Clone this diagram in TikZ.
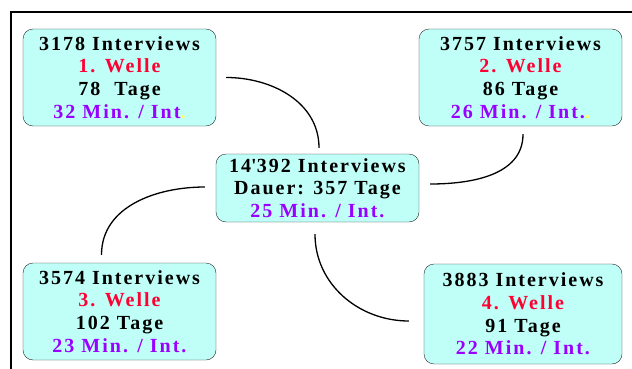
\documentclass[tikz,border=0pt]{standalone}
\usepackage{fontspec}
\setmainfont{Liberation Serif}[LetterSpace=10]
\usepackage{xcolor}
\usepackage{tikz}
\definecolor{boxfill}{HTML}{C0FFF8}
\definecolor{welle}{HTML}{FF0033}
\definecolor{mininfo}{HTML}{9900FF}
\definecolor{dotyellow}{HTML}{FFFF66}
\tikzset{
  wave node/.style={rectangle,rounded corners=10pt,draw=black!85,fill=boxfill,
    align=center,inner sep=0pt,minimum height=97pt,
    font=\fontsize{20}{22.7}\selectfont\bfseries},
  total node/.style={wave node,minimum height=68pt,minimum width=203pt},
  arc/.style={-,line width=1.3pt}
}
\begin{document}
\begin{tikzpicture}[x=1pt,y=-1pt]
  \useasboundingbox (0,0) rectangle (632,369);
  \draw[line width=2pt] (11,369) -- (11,12) -- (632,12);
  % waves
  \node[wave node,minimum width=193pt] (w1) at (119.5,77.5)
    {3178 Interviews\\\textcolor{welle}{1. Welle}\\78 \ Tage\\
     \textcolor{mininfo}{32 Min. / Int}\textcolor{dotyellow}{.}};
  \node[wave node,minimum width=203pt] (w2) at (520.5,77.5)
    {3757 Interviews\\\textcolor{welle}{2. Welle}\\86 Tage\\
     \textcolor{mininfo}{26 Min. / Int.}\textcolor{dotyellow}{.}};
  \node[wave node,minimum width=193pt] (w3) at (119.5,311.5)
    {3574 Interviews\\\textcolor{welle}{3. Welle}\\102 Tage\\
     \textcolor{mininfo}{23 Min. / Int.}};
  \node[wave node,minimum width=198pt,minimum height=100pt] (w4) at (523,314)
    {3883 Interviews\\\textcolor{welle}{4. Welle}\\91 Tage\\
     \textcolor{mininfo}{22 Min. / Int.}};
  % total
  \node[total node] (total) at (317.5,188)
    {14\textquotesingle392 Interviews\\Dauer: 357 Tage\\
     \textcolor{mininfo}{25 Min. / Int.}};
  % arcs
  \draw[arc] ([xshift=10pt]w1.east) to[out=0,in=90] ([xshift=1.5pt,yshift=6pt]total.north);
  \draw[arc] ([xshift=2.5pt,yshift=-8pt]w2.south) to[out=-90,in=0] ([xshift=11pt,yshift=4pt]total.east);
  \draw[arc] ([xshift=-11pt,yshift=1pt]total.west) to[out=180,in=90] ([xshift=-18pt,yshift=8pt]w3.north);
  \draw[arc] ([xshift=-2.5pt,yshift=-12pt]total.south) to[out=-90,in=180] ([xshift=-15pt,yshift=-7pt]w4.west);
\end{tikzpicture}
\end{document}
